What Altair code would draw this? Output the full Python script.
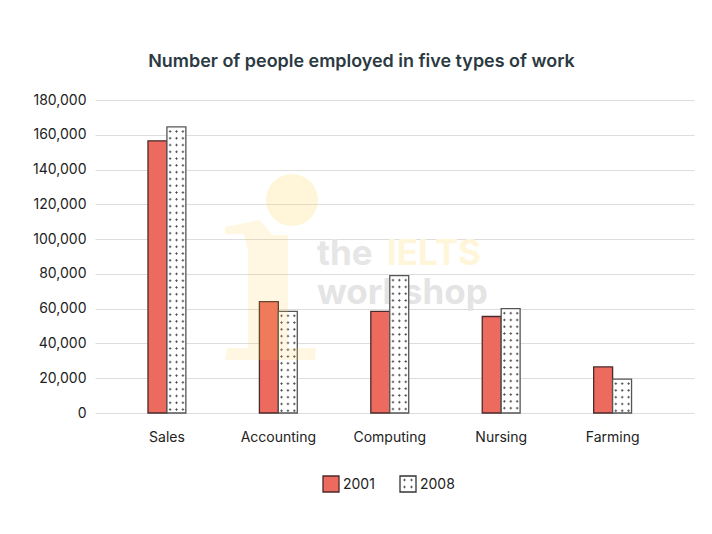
import altair as alt
import pandas as pd

categories = ["Sales", "Accounting", "Computing", "Nursing", "Farming"]
values_2001 = [156500, 64000, 58500, 55500, 26500]
values_2008 = [164500, 58500, 79000, 60000, 19500]
years = ["2001", "2008"]
y_ticks = list(range(0, 180001, 20000))

FONT = "Inter"
RED = "#EC6A5E"
STROKE_2001 = "#4A2A2A"
STROKE_2008 = "#555555"

rows = []
for c, a, b in zip(categories, values_2001, values_2008):
    rows.append({"cat": c, "year": "2001", "v": a})
    rows.append({"cat": c, "year": "2008", "v": b})
df = pd.DataFrame(rows)

dots = []
for c, b in zip(categories, values_2008):
    k = b - 2600
    while k > 1000:
        dots.append({"cat": c, "v": k})
        k -= 3900
dots_df = pd.DataFrame(dots)

xs = alt.Scale(domain=categories, paddingInner=0.66, paddingOuter=0.518, align=0.459)
ys = alt.Scale(domain=[0, 180000], nice=False)
x_enc = alt.X("cat:N", scale=xs, sort=categories, title=None,
              axis=alt.Axis(labelAngle=0, labelFontSize=14, labelColor="#222222", labelFont=FONT,
                            domain=False, ticks=False, labelPadding=17, grid=False))
y_enc = alt.Y("v:Q", scale=ys, title=None,
              axis=alt.Axis(values=y_ticks, format=",d", labelFontSize=14, labelColor="#222222",
                            labelFont=FONT, domain=False, ticks=False, labelPadding=9,
                            grid=True, gridColor="#DDDDDD", gridWidth=1.2))

bars = alt.Chart(df).mark_bar(strokeWidth=1.3).encode(
    x=x_enc, y=y_enc,
    xOffset=alt.XOffset("year:N", sort=years),
    fill=alt.Fill("year:N", scale=alt.Scale(domain=years, range=[RED, "#FFFFFF"]), legend=None),
    stroke=alt.Stroke("year:N", scale=alt.Scale(domain=years, range=[STROKE_2001, STROKE_2008]), legend=None),
)

CROSS = "M-1,0H1M0,-1V1"
cross_layers = [
    alt.Chart(dots_df).mark_point(shape=CROSS, size=7, strokeWidth=0.8, color="#444444", opacity=1,
                                  filled=False, xOffset=off).encode(x=x_enc, y=y_enc)
    for off in (3.2, 9.6, 16)
]


def wm(text, x, y, color, size=35):
    return alt.Chart(pd.DataFrame({"t": [text]})).mark_text(
        font=FONT, fontWeight=700, fontSize=size, align="left", baseline="alphabetic", color=color, opacity=1
    ).encode(x=alt.value(x), y=alt.value(y), text="t:N")


def logo_path():
    pts = [(225, 227), (260, 220), (272, 235), (288, 235), (288, 348), (316, 348), (315, 360),
           (225, 360), (227, 348), (248, 348), (248, 250), (244, 234), (225, 234)]
    cx, cy, r = 270, 291, 69
    return "M" + "L".join(f"{(x - cx) / r:.3f},{(y - cy) / r:.3f}" for x, y in pts) + "Z"


anchor = pd.DataFrame({"a": [0]})
logo_body = alt.Chart(anchor).mark_point(shape=logo_path(), size=19044, filled=True, color="#FFD24D",
                                         opacity=0.17, strokeWidth=0).encode(
    x=alt.value(270 - 95), y=alt.value(291 - 100))
logo_dot = alt.Chart(anchor).mark_point(shape="circle", size=2704, filled=True, color="#FFD24D",
                                        opacity=0.22, strokeWidth=0).encode(
    x=alt.value(292 - 95), y=alt.value(200 - 100))

text_layers = [
    wm("the", 317 - 95, 265 - 100, "#E6E6E6"),
    wm("IELTS", 387 - 95, 265 - 100, "#FFF6DA"),
    wm("workshop", 317 - 95, 304 - 100, "#E4E4E4"),
]

legend_layers = []
for yr, sx, fill, st in [(years[0], 331, RED, STROKE_2001), (years[1], 408, "#FFFFFF", "#333333")]:
    legend_layers.append(
        alt.Chart(anchor).mark_point(shape="square", size=256, filled=True, fill=fill, stroke=st,
                                     strokeWidth=1.3, opacity=1).encode(
            x=alt.value(sx - 95), y=alt.value(484 - 100)))
    legend_layers.append(
        alt.Chart(pd.DataFrame({"t": [yr]})).mark_text(
            font=FONT, fontSize=14, color="#222222", align="left", baseline="middle"
        ).encode(x=alt.value(sx + 12 - 95), y=alt.value(484.5 - 100), text="t:N"))

legend_cross = [
    alt.Chart(anchor).mark_point(shape=CROSS, size=7, strokeWidth=0.8, color="#444444", opacity=1,
                                 filled=False).encode(x=alt.value(px - 95), y=alt.value(py - 100))
    for px, py in [(404.5, 480), (411.5, 480), (404.5, 487), (411.5, 487)]
]

chart = alt.layer(*text_layers, bars, *cross_layers, logo_body, logo_dot, *legend_layers, *legend_cross).properties(
    width=599, height=313,
    padding={"left": 87, "top": 92, "right": 10, "bottom": 100},
    autosize=alt.AutoSizeParams(type="none"),
    title=alt.TitleParams("Number of people employed in five types of work", font=FONT, fontSize=17.95,
                          fontWeight=600, color="#2B3A42", anchor="middle", dx=-33, offset=22),
).configure_view(stroke=None)

chart.save("out.html", embed_options={"renderer": "svg", "actions": False})
